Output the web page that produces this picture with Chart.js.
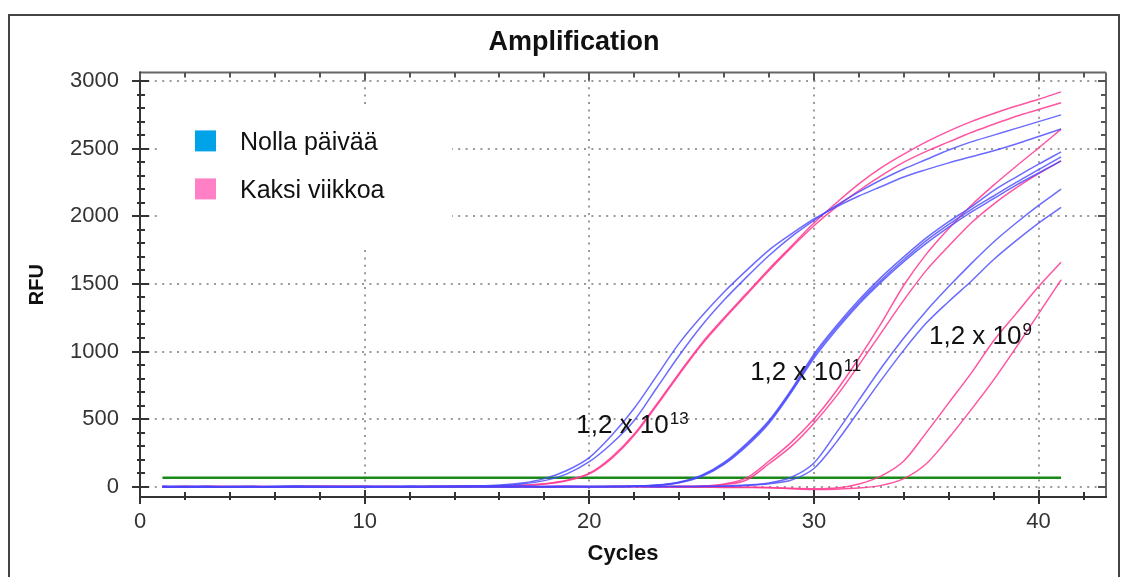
<!DOCTYPE html>
<html>
<head>
<meta charset="utf-8">
<title>Amplification</title>
<script src="https://cdn.jsdelivr.net/npm/chart.js@4"></script>
<style>
html,body{margin:0;padding:0;background:#fff}
#wrap{width:1127px;height:577px}
</style>
</head>
<body>
<div id="wrap"><canvas id="ampChart" width="1127" height="577"></canvas></div>
<script>

// DATA

const cycles = [1,2,3,4,5,6,7,8,9,10,11,12,13,14,15,16,17,18,19,20,21,22,23,24,25,26,27,28,29,30,31,32,33,34,35,36,37,38,39,40,41]

// Nolla päivää (blue) - 1,2 x 10^13
const day0_e13a = [0,2,1,-1,0,2,3,1,0,2,1,3,2,4,6,12,27,60,120,215,380,580,820,1060,1260,1440,1600,1750,1870,1980,2070,2150,2220,2290,2345,2395,2440,2485,2535,2590,2645]
const day0_e13b = [1,0,-2,0,1,0,2,0,-1,1,0,2,1,3,4,8,20,45,95,185,320,490,730,970,1190,1380,1550,1710,1850,1970,2080,2180,2270,2350,2420,2490,2550,2600,2650,2700,2750]
// 1,2 x 10^11
const day0_e11a = [1,0,2,-1,0,1,3,0,-2,1,2,0,1,-1,2,3,1,0,2,1,3,5,12,35,85,180,320,490,720,980,1190,1380,1550,1700,1840,1960,2070,2190,2290,2385,2476]
const day0_e11b = [0,1,-1,2,1,0,-2,1,0,2,1,-1,0,2,1,0,3,1,2,0,2,4,11,32,80,172,310,480,710,965,1175,1365,1530,1680,1820,1940,2050,2150,2250,2345,2440]
const day0_e11c = [2,0,1,0,-1,2,0,1,1,-2,0,1,2,0,-1,1,2,0,1,2,1,3,10,30,75,165,300,470,700,950,1160,1350,1515,1665,1800,1920,2030,2130,2230,2320,2410]
// 1,2 x 10^9
const day0_e9a = [0,2,1,0,-1,1,2,0,1,-1,0,2,1,0,1,2,-1,0,1,2,0,1,2,1,3,5,12,28,70,175,400,640,880,1100,1300,1480,1650,1810,1950,2080,2200]
const day0_e9b = [1,0,0,2,1,-1,0,1,2,0,-1,1,0,2,1,0,1,2,0,-1,1,2,0,2,2,3,9,22,50,135,330,560,790,1010,1210,1370,1520,1680,1820,1950,2065]

// Kaksi viikkoa (pink)
const week2_e13a = [0,1,0,2,0,-1,1,0,2,1,0,1,2,1,3,5,10,22,48,100,220,390,610,840,1060,1250,1430,1610,1780,1950,2100,2240,2360,2460,2550,2630,2700,2760,2815,2865,2920]
const week2_e13b = [1,0,1,0,-1,0,1,2,0,1,2,0,1,2,2,4,9,20,44,95,210,380,600,830,1050,1240,1420,1600,1770,1930,2070,2190,2300,2400,2480,2550,2620,2680,2740,2790,2840]
const week2_e11a = [0,1,0,-1,2,0,1,0,2,1,-1,0,1,2,0,1,-1,0,2,1,0,2,1,3,5,20,65,190,330,500,710,950,1210,1490,1720,1910,2080,2230,2370,2505,2644]
const week2_e11b = [1,0,2,0,1,-1,0,2,1,0,1,-2,0,1,1,0,2,-1,1,0,1,2,2,1,3,15,50,170,300,470,670,900,1140,1380,1600,1780,1950,2090,2210,2315,2410]
const week2_e9a = [0,1,0,2,-1,0,1,1,0,2,0,-1,1,0,2,1,0,1,-1,0,2,1,0,-2,-3,-2,-4,-5,-12,-15,-10,20,80,190,400,620,840,1080,1280,1480,1660]
const week2_e9b = [1,0,1,0,2,0,-1,1,2,0,1,0,-1,2,1,0,1,0,2,-1,0,1,-2,-3,-4,-5,-6,-8,-15,-20,-18,-10,10,60,170,360,570,790,1030,1280,1530]

const thresholdCycles = [1, 41]
const thresholdRfu = 67

const xTicks = [0,10,20,30,40]
const yTicks = [0,500,1000,1500,2000,2500,3000]
const minorStepX = 2
const minorStepY = 100

const legendLabels = ['Nolla päivää', 'Kaksi viikkoa']
const legendColors = ['#00a2e8', '#ff80c4']

const noteText = ['1,2 x 10', '1,2 x 10', '1,2 x 10']
const noteExp = ['13', '11', '9']
const noteCycle = [19.42, 27.16, 35.12]
const noteRfu = [397, 789, 1055]


// STYLE

const BLUE = 'rgba(70,70,255,0.8)'
const PINK = 'rgba(255,55,145,0.85)'
const FONT = "'Liberation Sans', Arial, sans-serif"

Chart.defaults.font.family = FONT
Chart.defaults.color = '#333'

function series(values){
return values.map((v,i) => ({x: cycles[i], y: v}))
}

function curve(values, color){
return {
data: series(values),
borderColor: color,
borderWidth: 1.5,
pointRadius: 0,
cubicInterpolationMode: 'monotone',
fill: false
}
}

const datasets = [
curve(day0_e13a, BLUE),
curve(day0_e13b, BLUE),
curve(day0_e11a, BLUE),
curve(day0_e11b, BLUE),
curve(day0_e11c, BLUE),
curve(day0_e9a, BLUE),
curve(day0_e9b, BLUE),
curve(week2_e13a, PINK),
curve(week2_e13b, PINK),
curve(week2_e11a, PINK),
curve(week2_e11b, PINK),
curve(week2_e9a, PINK),
curve(week2_e9b, PINK),
{
data: thresholdCycles.map(c => ({x: c, y: thresholdRfu})),
borderColor: '#178a17',
borderWidth: 2.5,
pointRadius: 0
}
]


// FRAME, TICKS, LEGEND AND NOTES

function line(c, x1, y1, x2, y2){
c.beginPath()
c.moveTo(x1, y1)
c.lineTo(x2, y2)
c.stroke()
}

const decorations = {

id: 'decorations',

beforeDraw(chart){
const c = chart.ctx
c.save()
c.fillStyle = '#fff'
c.fillRect(0, 0, chart.width, chart.height)
c.strokeStyle = '#444'
c.lineWidth = 2
c.strokeRect(9, 15, 1110, 620)
c.restore()
},

beforeDatasetsDraw(chart){
const c = chart.ctx
const a = chart.chartArea
c.save()
// legend sits on a white patch over the grid
c.fillStyle = '#fff'
c.fillRect(a.left + 18, a.top + 32, 294, 141)
c.font = '25px ' + FONT
c.textBaseline = 'alphabetic'
for(let i=0;i<legendLabels.length;i++){
let y = a.top + 58 + i*48
c.fillStyle = legendColors[i]
c.fillRect(a.left + 55, y, 21, 21)
c.fillStyle = '#111'
c.fillText(legendLabels[i], a.left + 100, y + 20)
}
c.restore()
},

afterDatasetsDraw(chart){
const c = chart.ctx
const a = chart.chartArea
const xs = chart.scales.x
const ys = chart.scales.y
c.save()

// axis box
c.lineWidth = 2
c.strokeStyle = '#666'
line(c, a.left, a.top, a.right, a.top)
line(c, a.right, a.top, a.right, a.bottom)
c.strokeStyle = '#333'
line(c, a.left, a.top - 1, a.left, a.bottom + 1)
line(c, a.left - 1, a.bottom, a.right + 1, a.bottom)

// tick marks on all four sides
c.lineWidth = 2
for(let v=0; v<=xs.max; v+=minorStepX){
let px = Math.round(xs.getPixelForValue(v))
let major = xTicks.includes(v)
c.strokeStyle = '#333'
line(c, px, a.bottom - (major ? 7 : 5), px, a.bottom + (major ? 7 : 3))
c.strokeStyle = '#555'
line(c, px, a.top, px, a.top + (major ? 8 : 5))
}
for(let v=0; v<=3000; v+=minorStepY){
let py = Math.round(ys.getPixelForValue(v))
let major = yTicks.includes(v)
c.strokeStyle = '#333'
line(c, a.left - (major ? 8 : 3), py, a.left + (major ? 9 : 5), py)
c.strokeStyle = '#555'
line(c, a.right - (major ? 8 : 5), py, a.right, py)
}

// dilution labels
c.fillStyle = '#111'
c.textBaseline = 'alphabetic'
for(let i=0;i<noteText.length;i++){
let x = xs.getPixelForValue(noteCycle[i])
let y = ys.getPixelForValue(noteRfu[i])
c.font = '26px ' + FONT
c.fillText(noteText[i], x, y)
let w = c.measureText(noteText[i]).width
c.font = '17px ' + FONT
c.fillText(noteExp[i], x + w + 1, y - 9)
}

c.restore()
}

}


// CHART

const ctx = document.getElementById('ampChart')

new Chart(ctx, {

type: 'line',

data: { datasets: datasets },

options: {

responsive: false,
animation: false,
layout: { padding: { left: 21, right: 0, top: 0, bottom: 0 } },

plugins: {
legend: { display: false },
tooltip: { enabled: false },
title: {
display: true,
text: 'Amplification',
color: '#111',
font: { size: 27, weight: 'bold' },
padding: { top: 26, bottom: 14 }
}
},

scales: {
x: {
type: 'linear',
min: 0,
max: 43,
afterBuildTicks: s => { s.ticks = xTicks.map(v => ({value: v})) },
afterFit: s => { s.height = 80 },
grid: {
color: g => (g.tick && g.tick.value === 0) ? 'rgba(0,0,0,0)' : '#9a9a9a',
lineWidth: 2,
drawTicks: false
},
border: { display: false, dash: [2, 5.4] },
ticks: { font: { size: 22 }, padding: 12, maxRotation: 0, color: '#333' },
title: {
display: true,
text: 'Cycles',
color: '#111',
font: { size: 22, weight: 'bold' },
padding: { top: 0, bottom: 10 }
}
},
y: {
type: 'linear',
min: -76,
max: 3064,
afterBuildTicks: s => { s.ticks = yTicks.map(v => ({value: v})) },
afterFit: s => { s.width = 119 },
grid: { color: '#9a9a9a', lineWidth: 2, drawTicks: false },
border: { display: false, dash: [2, 5.4] },
ticks: { font: { size: 22 }, padding: 21, color: '#333', callback: v => String(v) },
title: {
display: true,
text: 'RFU',
color: '#111',
font: { size: 20, weight: 'bold' },
padding: { top: 4, bottom: 0 }
}
},
y2: {
position: 'right',
afterFit: s => { s.width = 21 },
grid: { display: false },
border: { display: false },
ticks: { display: false }
}
}

},

plugins: [decorations]

})

</script>
</body>
</html>
